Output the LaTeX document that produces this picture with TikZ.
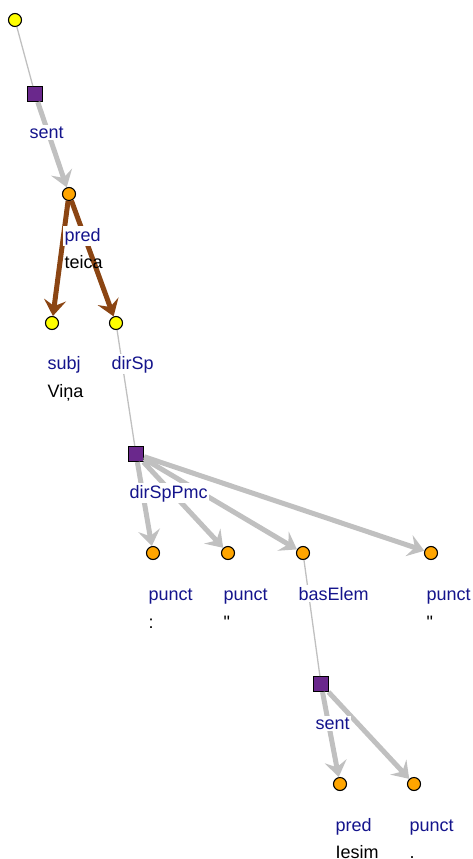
\documentclass[tikz,border=0pt]{standalone}
\usepackage{fontspec}
\setmainfont{Liberation Sans}
\usepackage{tikz}
\usetikzlibrary{arrows.meta}

\definecolor{nodeyellow}{RGB}{255,255,0}
\definecolor{nodeorange}{RGB}{255,165,0}
\definecolor{nodepurple}{RGB}{106,40,140}
\definecolor{relblue}{RGB}{20,20,140}
\definecolor{edgegray}{RGB}{192,192,192}
\definecolor{edgebrown}{RGB}{139,69,19}

\begin{document}
\begin{tikzpicture}[x=1pt,y=-1pt,
        tok/.style={circle,draw=black,line width=1.1pt,inner sep=0pt,minimum size=13pt},
        grp/.style={rectangle,draw=black,line width=1.1pt,fill=nodepurple,inner sep=0pt,minimum size=15pt},
        rel/.style={anchor=base west,fill=white,inner sep=1.5pt,text=relblue,font=\fontsize{18}{20}\selectfont},
        word/.style={anchor=base west,inner sep=1.5pt,text=black,font=\fontsize{18}{20}\selectfont},
        thin/.style={draw=edgegray,line width=1.3pt},
        fat/.style={draw=edgegray,line width=5pt,-{Stealth[length=16pt,width=22pt,inset=6pt]}},
        dep/.style={draw=edgebrown,line width=5pt,-{Stealth[length=16pt,width=22pt,inset=6pt]}}]
            \useasboundingbox (0,0) rectangle (473,859);

            % tokens and groups
            \node[tok,fill=nodeyellow] (root) at (15,20) {};
            \node[grp] (sentA) at (35,94) {};
            \node[tok,fill=nodeorange] (predA) at (69,194) {};
            \node[tok,fill=nodeyellow] (subj) at (52,323) {};
            \node[tok,fill=nodeyellow] (dirSp) at (116,323) {};
            \node[grp] (pmc) at (136,454) {};
            \node[tok,fill=nodeorange] (punA) at (153,553) {};
            \node[tok,fill=nodeorange] (punB) at (228,553) {};
            \node[tok,fill=nodeorange] (basElem) at (303,553) {};
            \node[tok,fill=nodeorange] (punC) at (431,553) {};
            \node[grp] (sentB) at (321,684) {};
            \node[tok,fill=nodeorange] (predB) at (340,784) {};
            \node[tok,fill=nodeorange] (punD) at (414,784) {};

            % edges
            \draw[thin] (root) -- (sentA);
            \draw[thin] (dirSp) -- (pmc);
            \draw[thin] (basElem) -- (sentB);
            \draw[fat] (sentA) -- (predA);
            \draw[fat] (pmc) -- (punA);
            \draw[fat] (pmc) -- (punB);
            \draw[fat] (pmc) -- (basElem);
            \draw[fat] (pmc) -- (punC);
            \draw[fat] (sentB) -- (predB);
            \draw[fat] (sentB) -- (punD);
            \draw[dep] (predA) -- (subj);
            \draw[dep] (predA) -- (dirSp);

            % labels
            \node[rel] (sentAlab) at (28,138) {sent};
            \node[rel] (predAlab) at (63,241) {pred};
            \node[word] (predAword) at (63,268) {teica};
            \node[rel] (subjlab) at (46,369) {subj};
            \node[word] (subjword) at (46,397) {Viņa};
            \node[rel] (dirSplab) at (110,369) {dirSp};
            \node[rel] (pmclab) at (128,498) {dirSpPmc};
            \node[rel] (punAlab) at (147,600) {punct};
            \node[word] (punAword) at (147,628) {:};
            \node[rel] (punBlab) at (222,600) {punct};
            \node[word] (punBword) at (222,628) {\textquotedbl};
            \node[rel] (basElemlab) at (297,600) {basElem};
            \node[rel] (punClab) at (425,600) {punct};
            \node[word] (punCword) at (425,628) {\textquotedbl};
            \node[rel] (sentBlab) at (314,729) {sent};
            \node[rel] (predBlab) at (334,831) {pred};
            \node[word] (predBword) at (334,858) {Iesim};
            \node[rel] (punDlab) at (408,831) {punct};
            \node[word] (punDword) at (408,858) {.};

            \end{tikzpicture}
\end{document}
